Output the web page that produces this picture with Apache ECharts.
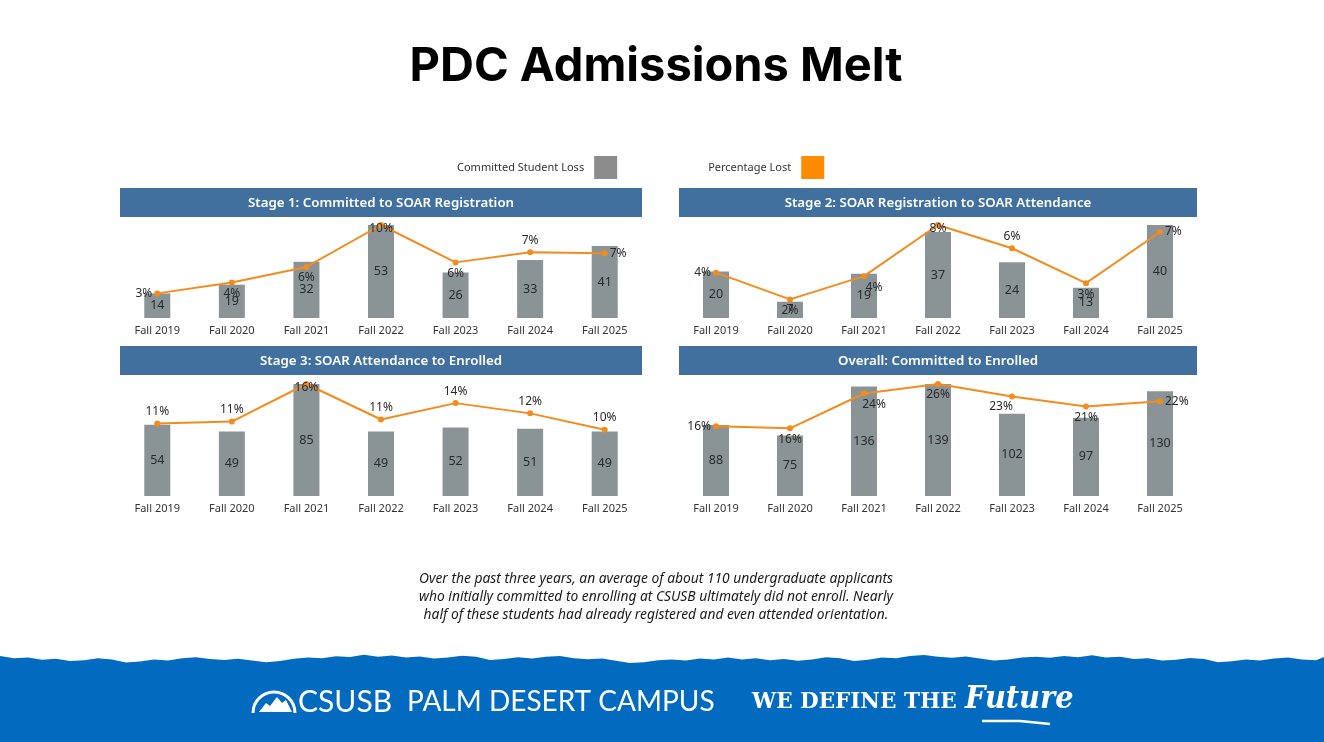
<!DOCTYPE html>
<html>
<head>
<meta charset="utf-8">
<title>PDC Admissions Melt</title>
<script src="https://cdn.jsdelivr.net/npm/echarts@6/dist/echarts.min.js"></script>
<style>
  html, body { margin: 0; padding: 0; background: #fff; }
  #chart { width: 1324px; height: 742px; }
</style>
</head>
<body>
<div id="chart"></div>
<script>
// Data
const categories = ['Fall 2019', 'Fall 2020', 'Fall 2021', 'Fall 2022', 'Fall 2023', 'Fall 2024', 'Fall 2025']

const stage1Loss = [14, 19, 32, 53, 26, 33, 41]
const stage1Pct = [2.7, 3.9, 5.6, 10.2, 6.1, 7.2, 7.1]

const stage2Loss = [20, 7, 19, 37, 24, 13, 40]
const stage2Pct = [3.9, 1.6, 3.6, 8.0, 6.0, 3.0, 7.4]

const stage3Loss = [54, 49, 85, 49, 52, 51, 49]
const stage3Pct = [10.6, 10.9, 16.4, 11.2, 13.6, 12.1, 9.7]

const overallLoss = [88, 75, 136, 139, 102, 97, 130]
const overallPct = [16.2, 15.7, 23.8, 26.0, 23.1, 20.8, 22.0]

const captionLines = [
  'Over the past three years, an average of about 110 undergraduate applicants',
  'who initially committed to enrolling at CSUSB ultimately did not enroll. Nearly',
  'half of these students had already registered and even attended orientation.'
]

// Styles
const FONT = '"Noto Sans", sans-serif'
const BAR_COLOR = '#8a9396'
const LINE_COLOR = '#f28c1e'
const HEADER_COLOR = '#41709f'
const FOOTER_BLUE = '#036bbf'

// label placement for the percentage labels (avoid the overlaps like the original)
const PLACE = {
  t: { position: 'top', distance: 3 },
  b: { position: 'bottom', distance: 2 },
  l: { position: 'left', distance: 2 },
  r: { position: 'right', distance: 2 },
  c: { position: 'inside', offset: [0, 4] },
  rb: { position: 'inside', offset: [10, 11] },
  lb: { position: 'inside', offset: [-11, 10] }
}

const panels = [
  { title: 'Stage 1: Committed to SOAR Registration', loss: stage1Loss, pct: stage1Pct,
    place: ['l', 'b', 'b', 'c', 'b', 't', 'r'],
    box: { left: 120, width: 522, top: 225, height: 93 }, header: 188 },
  { title: 'Stage 2: SOAR Registration to SOAR Attendance', loss: stage2Loss, pct: stage2Pct,
    place: ['l', 'b', 'rb', 'c', 't', 'b', 'r'],
    box: { left: 679, width: 518, top: 225, height: 93 }, header: 188 },
  { title: 'Stage 3: SOAR Attendance to Enrolled', loss: stage3Loss, pct: stage3Pct,
    place: ['t', 't', 'c', 't', 't', 't', 't'],
    box: { left: 120, width: 522, top: 384, height: 112 }, header: 346 },
  { title: 'Overall: Committed to Enrolled', loss: overallLoss, pct: overallPct,
    place: ['l', 'b', 'rb', 'b', 'lb', 'b', 'r'],
    box: { left: 679, width: 518, top: 384, height: 112 }, header: 346 }
]

const grid = []
const xAxis = []
const yAxis = []
const series = []
const graphic = []

panels.forEach((p, i) => {
  grid.push(Object.assign({ containLabel: false }, p.box))
  xAxis.push({
    type: 'category',
    gridIndex: i,
    data: categories,
    axisLine: { show: false },
    axisTick: { show: false },
    axisLabel: { fontSize: 11, color: '#333', margin: 7, fontFamily: FONT }
  })
  yAxis.push({ type: 'value', gridIndex: i, min: 0, max: 'dataMax', show: false })
  yAxis.push({ type: 'value', gridIndex: i, min: 0, max: 'dataMax', show: false })

  series.push({
    name: 'Committed Student Loss',
    type: 'bar',
    xAxisIndex: i,
    yAxisIndex: i * 2,
    data: p.loss,
    barWidth: 26,
    itemStyle: { color: BAR_COLOR },
    label: { show: true, position: 'inside', fontSize: 12.5, color: '#2a2a2a', fontFamily: FONT }
  })
  series.push({
    name: 'Percentage Lost',
    type: 'line',
    xAxisIndex: i,
    yAxisIndex: i * 2 + 1,
    z: 5,
    data: p.pct.map((v, k) => ({ value: v, label: PLACE[p.place[k]] })),
    symbol: 'circle',
    symbolSize: 6,
    itemStyle: { color: LINE_COLOR },
    lineStyle: { color: LINE_COLOR, width: 2 },
    label: {
      show: true,
      fontSize: 12,
      color: '#2a2a2a',
      fontFamily: FONT,
      formatter: (d) => Math.round(d.value) + '%'
    }
  })

  // header bar
  graphic.push({
    type: 'rect',
    shape: { x: p.box.left, y: p.header, width: p.box.width, height: 29 },
    style: { fill: HEADER_COLOR },
    z: 1
  })
  graphic.push({
    type: 'text',
    x: p.box.left + p.box.width / 2,
    y: p.header + 15,
    style: {
      text: p.title, fill: '#fff', font: '600 13.3px ' + FONT,
      textAlign: 'center', textVerticalAlign: 'middle'
    },
    z: 2
  })
})

// title
graphic.push({
  type: 'text', x: 656, y: 67,
  style: { text: 'PDC Admissions Melt', fill: '#000', font: '700 47px Inter, sans-serif', textAlign: 'center', textVerticalAlign: 'middle' }
})

// caption
captionLines.forEach((line, k) => {
  graphic.push({
    type: 'text', x: 656, y: 579 + k * 18,
    style: { text: line, fill: '#1a1a1a', font: 'italic 13.8px ' + FONT, textAlign: 'center', textVerticalAlign: 'middle' }
  })
})

// footer band with a torn top edge
const tear = [0, 2, 1, 3, 2, 4, 3, 1, 2, 5, 4, 2, 3, 1, 0, 2, 3, 2, 4, 6, 5, 3, 2, 3, 1, 2]
const edge = []
for (let x = 0, k = 0; x <= 1324; x += 14, k++) {
  edge.push([x, 656 + tear[k % tear.length] + 1.5 * Math.sin(x / 90)])
}
edge.push([1324, 657], [1324, 742], [0, 742])
graphic.push({ type: 'polygon', shape: { points: edge }, style: { fill: FOOTER_BLUE } })

// logo: arch + mountains
graphic.push({
  type: 'arc', shape: { cx: 274, cy: 713, r: 21, startAngle: Math.PI, endAngle: 2 * Math.PI },
  style: { stroke: '#fff', lineWidth: 3, fill: null }
})
graphic.push({
  type: 'polygon',
  shape: { points: [[259, 712], [266, 703], [270, 706], [277, 697], [282, 703], [286, 700], [292, 712]] },
  style: { fill: '#fff' }
})
graphic.push({
  type: 'text', x: 298, y: 702,
  style: { text: 'CSUSB', fill: '#fff', font: '400 30px Lato, sans-serif', textVerticalAlign: 'middle' }
})
graphic.push({
  type: 'text', x: 407, y: 702,
  style: { text: 'PALM DESERT CAMPUS', fill: '#fff', font: '400 28px Lato, sans-serif', textVerticalAlign: 'middle' }
})
graphic.push({
  type: 'text', x: 752, y: 702,
  style: { text: 'WE DEFINE THE', fill: '#fff', font: '700 21.5px "DejaVu Serif", serif', textVerticalAlign: 'middle' }
})
graphic.push({
  type: 'text', x: 965, y: 700,
  style: { text: 'Future', fill: '#fff', font: 'italic 700 32px "DejaVu Serif Condensed", "DejaVu Serif", serif', textVerticalAlign: 'middle' }
})
graphic.push({
  type: 'polyline', shape: { points: [[982, 721], [1020, 721], [1050, 724]] },
  style: { stroke: '#fff', lineWidth: 2.5 }
})

const option = {
  backgroundColor: '#fff',
  animation: false,
  textStyle: { fontFamily: FONT },
  legend: {
    left: 452,
    top: 151,
    align: 'right',
    icon: 'rect',
    itemWidth: 23,
    itemHeight: 23,
    itemGap: 91,
    textStyle: { fontSize: 11, color: '#333', fontFamily: FONT, padding: [0, 5, 0, 0] },
    data: [
      { name: 'Committed Student Loss', itemStyle: { color: '#8c8c8c' } },
      { name: 'Percentage Lost', itemStyle: { color: '#ff8c00' } }
    ]
  },
  grid,
  xAxis,
  yAxis,
  series,
  graphic
}

const myChart = echarts.init(document.getElementById('chart'))
myChart.setOption(option)
</script>
</body>
</html>
